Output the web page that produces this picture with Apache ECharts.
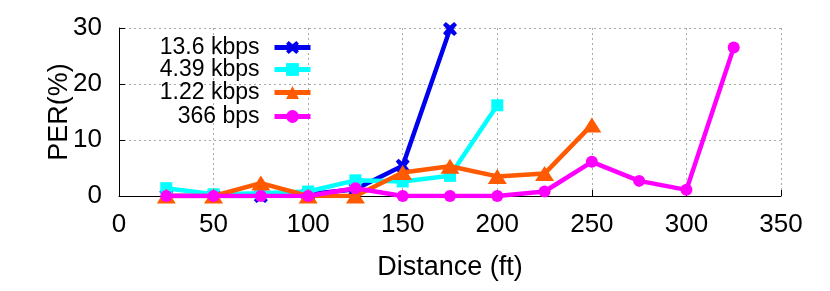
<!DOCTYPE html>
<html><head><meta charset="utf-8">
<script src="https://cdn.jsdelivr.net/npm/echarts@6/dist/echarts.min.js"></script>
<style>html,body{margin:0;padding:0;background:#fff}#c{width:830px;height:291px}</style>
</head><body><div id="c"></div>
<script>
const seriesNames = ['13.6 kbps', '4.39 kbps', '1.22 kbps', '366 bps'];
const s136 = [[25,0],[50,0],[75,0],[100,0.3],[125,1.2],[150,5.4],[175,29.8]];
const s439 = [[25,1.4],[50,0.3],[75,0.5],[100,0.8],[125,2.8],[150,2.6],[175,3.6],[200,16.2]];
const s122 = [[25,0],[50,0],[75,2.3],[100,0],[125,0],[150,4.2],[175,5.3],[200,3.5],[225,4.0],[250,12.7]];
const s366 = [[25,0],[50,0],[75,0],[100,0],[125,1.4],[150,0],[175,0],[200,0],[225,0.8],[250,6.1],[275,2.7],[300,1.1],[325,26.5]];
const xTicks = [0,50,100,150,200,250,300,350];
const yTicks = [0,10,20,30];

const colors = ['#0000ee', '#00ffff', '#ff5a00', '#ff00ff'];
const symbols = ['path://M2,0 L5,2.5 L8,0 L10,2 L7.5,5 L10,8 L8,10 L5,7.5 L2,10 L0,8 L2.5,5 L0,2 Z', 'rect', 'triangle', 'circle'];
const sizes = [14, 12, [19, 15], 12];
const datas = [s136, s439, s122, s366];
const font = 'Liberation Sans, Arial, sans-serif';

const chart = echarts.init(document.getElementById('c'));
const legendTops = [36, 58, 81, 105];
chart.setOption({
  animation: false,
  grid: {left: 119, right: 49, top: 28, bottom: 95},
  xAxis: {
    type: 'value', min: xTicks[0], max: xTicks[xTicks.length - 1], interval: xTicks[1] - xTicks[0],
    name: 'Distance (ft)', nameLocation: 'middle', nameGap: 58, nameMoveOverlap: false,
    nameTextStyle: {fontSize: 27, color: '#000', fontFamily: font},
    axisLine: {show: true, lineStyle: {color: '#000', width: 1}},
    axisTick: {show: true, inside: true, length: 6, lineStyle: {color: '#000'}},
    axisLabel: {fontSize: 26, color: '#000', fontFamily: font, margin: 16},
    splitLine: {show: true, lineStyle: {color: '#aaa', type: [2, 3], width: 1}}
  },
  yAxis: {
    type: 'value', min: yTicks[0], max: yTicks[yTicks.length - 1], interval: yTicks[1] - yTicks[0],
    name: 'PER(%)', nameLocation: 'middle', nameGap: 46, nameMoveOverlap: false,
    nameTextStyle: {fontSize: 27, color: '#000', fontFamily: font},
    axisLine: {show: true, lineStyle: {color: '#000', width: 1}},
    axisTick: {show: true, inside: true, length: 6, lineStyle: {color: '#000'}},
    axisLabel: {fontSize: 26, color: '#000', fontFamily: font, margin: 17},
    splitLine: {show: true, lineStyle: {color: '#aaa', type: [2, 3], width: 1}}
  },
  legend: seriesNames.map((n, i) => ({
    data: [n], orient: 'vertical', align: 'right', right: 517, top: legendTops[i],
    itemWidth: 36, itemHeight: 16, itemGap: 4, padding: 0,
    lineStyle: {width: 5},
    textStyle: {fontSize: 23, color: '#000', fontFamily: font, padding: [0, 10, 0, 0]}
  })),
  series: seriesNames.map((n, i) => ({
    name: n, type: 'line', data: datas[i],
    color: colors[i],
    symbol: symbols[i], symbolSize: sizes[i],
    lineStyle: {width: 4.5, color: colors[i]},
    itemStyle: {color: colors[i]},
    z: 2 + i
  }))
});
</script></body></html>
